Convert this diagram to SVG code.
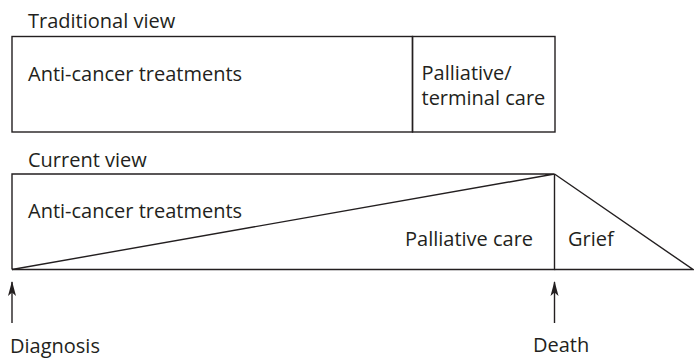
<svg xmlns="http://www.w3.org/2000/svg" width="694" height="358" viewBox="0 0 694 358">
<style>
text{font-family:"Open Sans","Noto Sans","Liberation Sans",sans-serif;font-size:20px;fill:#231f20}
.ln{fill:none;stroke:#231f20;stroke-width:1.4}
</style>
<defs>
<marker id="ah" markerWidth="16" markerHeight="10" refX="15" refY="5" orient="auto" markerUnits="userSpaceOnUse" viewBox="0 0 16 10">
<path d="M16 5 L1 1 L4.5 5 L1 9 Z" fill="#231f20"/>
</marker>
</defs>
<rect width="694" height="358" fill="#fff"/>
<text x="28" y="28">Traditional view</text>
<g id="traditional-anticancer">
<rect class="ln" x="12" y="36.5" width="400.5" height="95.5"/>
<text x="28" y="81">Anti-cancer treatments</text>
</g>
<g id="traditional-palliative">
<rect class="ln" x="412.5" y="36.5" width="142.5" height="95.5"/>
<text x="421.5" y="80">Palliative/</text>
<text x="421.5" y="105">terminal care</text>
</g>
<text x="28" y="166.5">Current view</text>
<g id="current-anticancer">
<path class="ln" d="M12 269.5 L12 174 L554.5 174 L12 269.5"/>
<text x="28" y="218">Anti-cancer treatments</text>
</g>
<g id="current-palliative">
<path class="ln" d="M12 269.5 L554.5 269.5 L554.5 174"/>
<text x="405" y="246">Palliative care</text>
</g>
<g id="grief">
<path class="ln" d="M554.5 174 L693 269.5 L554.5 269.5"/>
<text x="568" y="246">Grief</text>
</g>
<g id="connectors">
<line class="ln" x1="12" y1="323" x2="12" y2="282" marker-end="url(#ah)"/>
<line class="ln" x1="554.5" y1="323" x2="554.5" y2="282" marker-end="url(#ah)"/>
</g>
<g id="diagnosis"><text x="10" y="353">Diagnosis</text></g>
<g id="death"><text x="533" y="352">Death</text></g>
</svg>
